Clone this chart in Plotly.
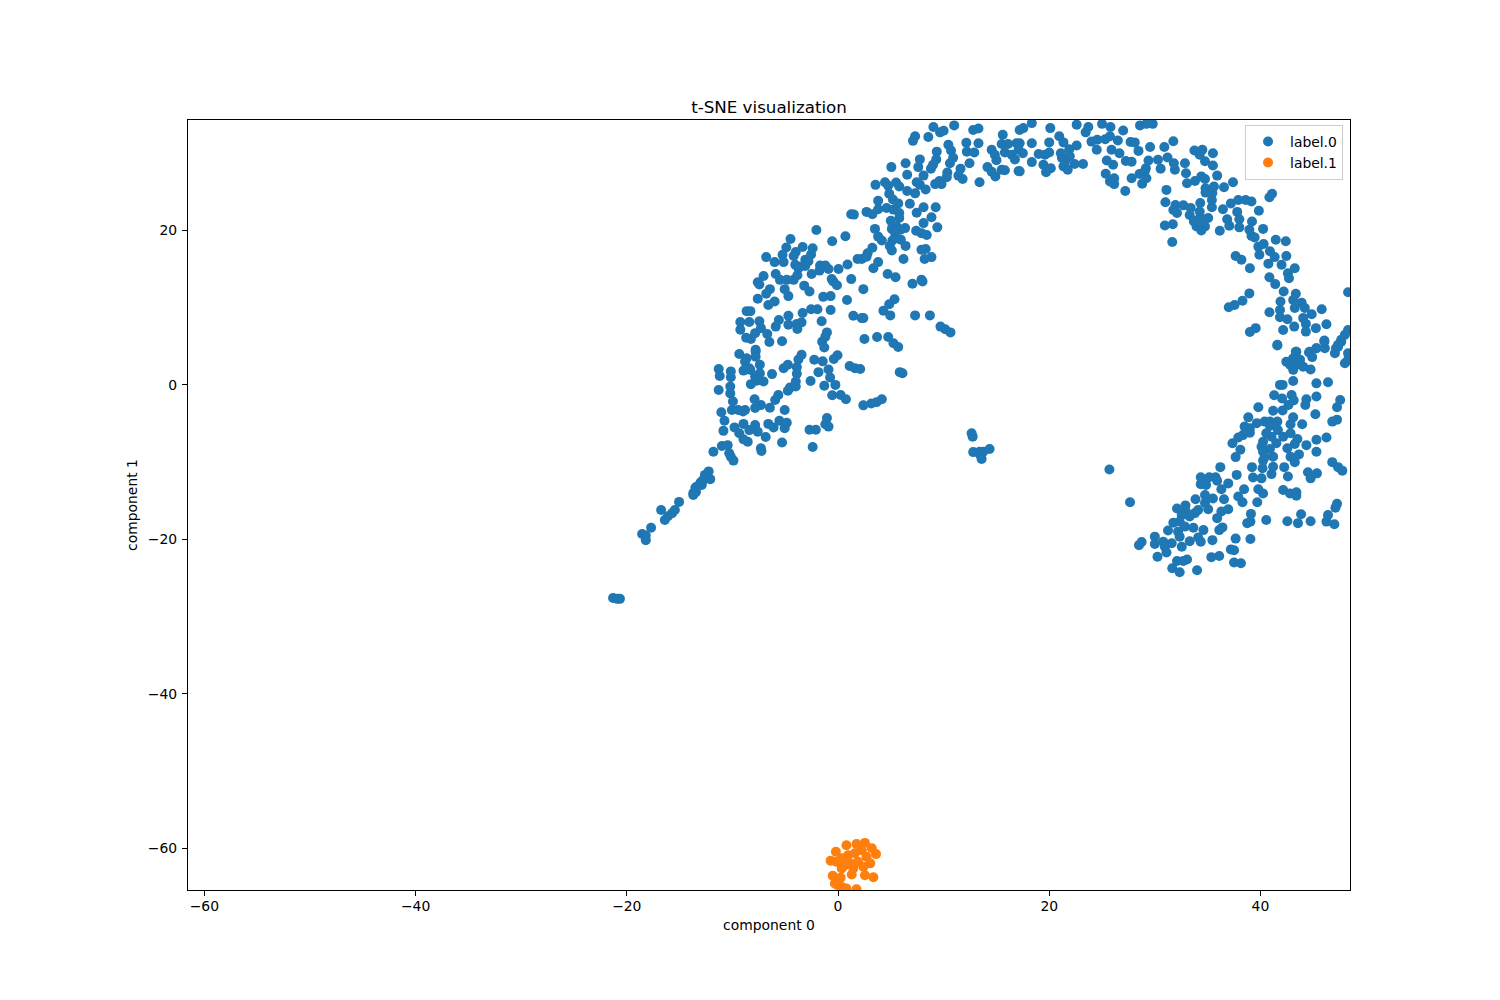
import plotly.graph_objects as go

# (component 0, component 1)
label_0_points = [
    (9.03,33.4),(11.0,33.6),(9.66,32.7),(10.0,32.9),(7.3,32.2),(7.1,31.6),(8.55,32.1),(12.8,33.0),(13.3,33.2),(15.6,32.4),
    (17.2,33.0),(12.15,31.35),(13.3,31.3),(10.45,31.1),(10.7,30.35),(9.35,30.2),(12.2,30.2),(12.9,30.1),(14.55,30.45),(14.85,29.8),
    (15.0,29.1),(15.5,31.2),(16.1,31.2),(16.9,31.3),(15.8,30.1),(16.45,29.8),(16.75,29.2),(17.1,30.45),(7.75,29.2),(9.3,29.2),
    (6.4,28.7),(5.05,28.2),(7.6,28.2),(9.0,28.5),(8.8,28.0),(10.9,29.4),(10.6,28.7),(12.45,28.7),(14.15,28.2),(14.55,27.6),
    (14.9,27.0),(15.5,27.85),(15.8,27.8),(17.1,27.7),(11.6,28.0),(11.4,27.1),(11.8,26.65),(10.35,27.5),(10.3,26.9),(8.1,27.1),
    (6.55,27.2),(13.4,26.25),(9.6,26.4),(9.8,26.0),(9.2,26.0),(7.45,26.25),(7.75,25.9),(8.3,25.3),(7.3,24.8),(6.55,25.1),
    (5.8,25.7),(5.5,26.2),(4.45,26.25),(4.75,25.8),(3.55,25.9),(4.85,24.75),(5.2,24.0),(5.7,23.5),(3.8,23.85),(6.8,23.45),
    (8.1,23.0),(7.45,22.3),(9.25,23.0),(8.85,21.7),(8.1,20.95),(9.4,20.4),(3.8,22.75),(4.6,22.9),(5.25,22.7),(5.8,22.25),
    (5.8,21.6),(5.0,21.25),(2.7,22.4),(3.25,22.1),(1.25,22.1),(1.5,22.05),(3.5,20.2),(5.1,20.2),(5.55,20.5),(5.9,20.1),
    (6.35,20.3),(5.4,19.65),(7.4,19.95),(7.9,19.65),(8.4,19.4),(3.8,19.2),(4.15,18.7),(5.15,18.7),(5.95,18.8),(4.9,18.0),
    (5.1,17.4),(6.4,18.0),(7.9,17.5),(8.3,17.6),(8.2,16.3),(8.85,16.55),(6.2,16.3),(3.25,17.75),(2.8,17.05),(2.7,16.6),
    (2.25,16.3),(1.85,16.3),(0.9,15.6),(3.8,15.9),(3.35,15.1),(0.05,15.0),(4.7,14.35),(5.45,13.95),(1.25,13.7),(7.05,13.1),
    (7.9,13.6),(8.0,13.4),(2.4,12.4),(-0.6,13.7),(-0.45,13.4),(-0.1,12.9),(-2.05,20.05),(-0.55,18.6),(0.7,19.25),(-4.5,18.9),
    (-4.9,17.8),(-3.35,17.85),(-2.4,17.7),(-2.55,16.9),(-4.0,17.2),(-4.2,16.7),(-5.25,16.85),(-6.8,16.55),(-6.0,15.9),(-5.15,15.9),
    (-3.1,16.2),(-2.8,16.0),(-4.05,15.55),(-3.6,15.3),(-3.1,15.4),(-3.75,15.1),(-2.5,14.35),(-1.7,15.45),(-1.2,15.45),(-0.9,15.0),
    (-1.75,14.8),(-5.9,14.35),(-5.5,13.6),(-4.85,13.6),(-4.2,13.6),(-3.85,14.2),(-7.05,14.1),(-7.6,13.3),(-7.45,13.0),(-6.45,12.4),
    (-6.8,11.8),(-7.6,11.15),(-5.05,12.4),(-4.7,11.5),(-3.2,12.85),(-2.7,12.1),(-1.4,11.4),(-0.7,11.5),(0.85,11.0),(-6.0,10.8),
    (-6.6,10.35),(-8.65,9.55),(-8.3,9.55),(-9.25,8.15),(-8.4,8.15),(-7.45,8.25),(-9.25,7.15),(-8.7,6.1),(-8.25,5.95),(-7.85,6.7),
    (-7.3,7.35),(-6.7,6.6),(-6.5,5.55),(-5.3,5.65),(-5.9,7.55),(-5.6,8.4),(-4.7,8.95),(-4.7,7.8),(-3.9,7.9),(-3.85,7.25),
    (-3.45,8.1),(-3.35,9.3),(-2.55,9.8),(-1.95,9.8),(-0.7,9.7),(-1.55,8.25),(1.45,8.95),(2.25,8.65),(2.4,8.65),(4.3,9.6),
    (4.85,10.45),(5.35,11.1),(4.95,9.0),(7.3,9.0),(8.7,9.0),(9.7,7.55),(10.15,7.2),(10.65,6.8),(-1.05,6.8),(-1.2,6.25),
    (-1.5,5.6),(-1.3,4.85),(2.5,5.95),(3.7,6.2),(4.75,6.2),(5.25,5.4),(5.7,4.9),(-7.8,4.55),
    (17.55,33.25),(18.35,33.9),(20.1,33.25),(22.6,33.7),(23.7,33.4),(23.45,32.7),(25.0,33.8),(25.8,33.4),(27.0,32.95),(28.6,33.6),
    (29.2,33.8),(29.8,33.8),(20.95,32.2),(21.35,31.4),(18.35,31.3),(20.0,31.4),(22.6,31.0),(21.9,30.5),(24.0,31.5),(24.55,31.75),
    (25.3,31.8),(25.75,32.2),(26.5,31.65),(27.7,31.45),(28.1,31.4),(29.55,30.8),(30.9,30.8),(31.75,31.55),(17.2,31.3),(17.5,30.0),
    (19.0,29.9),(19.6,29.8),(20.0,30.1),(21.1,30.0),(21.2,29.4),(21.5,28.9),(21.95,29.6),(18.35,28.85),(19.45,28.5),(20.15,28.05),
    (19.7,27.55),(21.35,28.3),(21.75,27.85),(22.4,28.6),(23.2,28.6),(24.5,30.45),(25.9,30.45),(26.65,30.0),(28.45,30.3),(25.45,29.05),
    (26.05,28.5),(27.25,29.0),(27.8,28.9),(29.4,29.05),(29.15,28.05),(30.3,29.15),(30.55,28.0),(31.2,29.45),(31.8,28.7),(31.9,27.85),
    (32.85,28.7),(32.95,27.4),(33.75,30.35),(34.5,30.45),(34.25,29.8),(35.5,30.0),(34.75,28.95),(35.5,28.4),(17.2,27.65),(25.35,27.35),
    (26.15,26.75),(25.75,26.35),(26.15,26.0),(27.8,26.75),(28.55,27.3),(29.05,27.65),(29.2,26.75),(28.8,26.05),(27.2,25.1),(33.05,26.1),
    (33.8,26.4),(34.4,27.0),(34.75,26.65),(35.9,27.1),(37.4,26.25),(34.8,25.45),(35.6,25.7),(36.55,25.6),(34.8,24.9),(35.45,24.85),
    (31.1,25.25),(41.1,24.75),(40.85,24.3),(31.0,23.65),(35.4,23.95),(34.3,23.55),(35.4,23.0),(31.95,23.3),(32.7,23.25),(31.75,22.65),
    (32.1,22.25),(33.4,22.9),(34.25,22.45),(33.3,22.0),(35.05,21.6),(33.7,21.15),(34.1,21.4),(34.6,21.45),(33.95,20.5),(34.75,20.5),
    (34.4,20.0),(30.95,20.65),(31.7,20.8),(36.15,19.95),(31.65,18.5),(37.2,23.5),(37.9,23.95),(38.6,23.95),(39.15,23.75),(36.45,22.75),
    (37.8,22.4),(39.85,22.55),(36.85,21.45),(37.05,20.6),(38.0,21.45),(38.0,20.4),(39.2,21.15),(38.95,20.1),(40.25,20.2),(39.15,19.3),
    (39.45,19.1),(41.45,18.8),(42.4,18.6),(39.8,17.9),(40.3,18.25),(40.9,17.3),(39.9,16.85),(41.35,16.55),(42.45,16.7),(42.0,15.55),
    (40.75,15.7),(37.65,16.7),(38.2,16.2),(39.0,15.1),(43.25,15.1),(42.6,14.45),(42.7,13.8),(40.85,13.95),(41.4,13.05),(42.2,12.1),
    (43.35,11.8),(48.3,12.0),(38.95,11.85),(38.3,10.9),(37.55,10.35),(37.0,10.05),(41.9,10.8),(43.1,11.0),(43.9,10.65),(44.2,9.95),
    (43.25,9.95),(40.85,9.4),(41.85,9.7),(41.85,8.75),(42.55,8.5),(44.85,9.15),(45.8,9.8),(44.05,8.65),(44.3,7.9),(44.3,6.9),
    (43.2,7.55),(42.15,7.1),(45.25,7.35),(46.25,7.85),(39.55,7.35),(39.0,6.85),(46.05,5.75),(41.6,5.1),(48.3,7.1),(48.0,6.5),
    (47.65,5.85),(47.35,5.2),(47.15,4.75),(44.65,4.3),(45.3,4.75),(43.35,4.3),
    (-9.35,4.0),(-7.8,4.3),(-8.65,3.45),(-7.8,3.65),(-8.8,3.0),(-8.95,1.85),(-11.3,2.05),(-11.2,1.15),(-10.15,1.75),(-10.15,1.0),
    (-10.2,-0.2),(-11.3,-0.65),(-10.2,-1.1),(-9.95,-2.15),(-10.05,-3.25),(-9.45,-3.25),(-8.8,-3.25),(-9.0,-3.45),(-11.05,-3.55),(-10.75,-4.65),
    (-10.85,-5.95),(-9.8,-5.5),(-9.35,-6.25),(-8.95,-7.05),(-8.55,-7.35),(-8.95,-5.05),(-8.4,-5.85),(-7.85,-5.2),(-7.6,-6.05),(-6.85,-6.75),
    (-7.3,-8.2),(-7.25,-8.55),(-5.3,-7.45),(-6.6,-5.05),(-6.1,-5.5),(-5.55,-4.65),(-4.85,-4.9),(-5.05,-5.6),(-5.05,-3.25),(-6.45,-2.95),
    (-7.3,-2.6),(-7.85,-3.0),(-7.9,-1.85),(-5.95,-1.95),(-5.65,-1.3),(-4.75,-0.75),(-4.55,-0.35),(-4.0,-0.2),(-4.0,0.45),(-3.9,1.45),
    (-3.9,2.3),(-5.15,2.15),(-4.75,2.6),(-3.75,3.3),(-3.45,3.9),(-2.25,3.25),(-1.45,3.05),(-1.85,1.65),(-0.9,2.0),(-0.4,3.35),
    (-0.05,3.85),(-2.6,0.5),(-0.75,0.95),(-1.3,-0.1),(-0.25,0.0),(-0.55,-1.35),(0.25,-1.3),(0.75,-1.85),(1.1,2.45),(1.6,2.15),
    (2.1,2.05),(5.85,1.65),(6.1,1.5),(2.4,-2.65),(3.15,-2.4),(3.65,-2.25),(4.15,-1.85),(-1.05,-4.3),(-1.2,-5.1),(-0.9,-5.4),
    (-2.7,-5.8),(-2.1,-5.8),(-2.4,-8.05),(-7.4,2.6),(-8.3,1.95),(-7.4,1.5),(-6.25,1.4),(-7.85,1.1),(-7.05,0.45),(-7.7,0.55),
    (-8.25,0.1),(-8.4,2.15),(-11.8,-8.65),(-11.0,-7.9),(-10.45,-7.8),(-10.3,-8.85),(-10.15,-9.3),(-9.9,-9.8),(12.65,-6.25),(12.75,-6.7),
    (12.8,-8.7),(13.4,-8.65),(13.75,-8.65),(14.35,-8.3),(13.6,-9.6),(13.45,-9.05),
    (-12.25,-11.2),(-12.6,-11.65),(-12.1,-12.2),(-12.75,-12.3),(-13.35,-13.15),(-12.9,-12.95),(-13.0,-12.6),(-13.5,-13.3),(-13.7,-14.0),(-13.45,-13.85),
    (-13.7,-14.25),(-16.75,-16.2),(-16.4,-17.5),(-16.1,-17.0),(-15.7,-16.6),(-15.45,-16.2),(-15.05,-15.15),(-18.55,-19.3),(-18.2,-20.1),(-18.2,-19.5),
    (-17.7,-18.5),(-21.3,-27.6),(-20.9,-27.7),(-20.65,-27.7),
    (41.6,5.2),(43.4,4.3),(43.1,3.45),(42.45,3.0),(43.75,3.25),(42.8,2.6),(43.4,2.6),(43.1,1.95),(44.05,2.35),(44.75,2.0),
    (44.6,4.2),(45.3,4.75),(44.9,3.6),(46.1,4.75),(46.05,5.6),(47.05,4.1),(47.35,4.95),(48.0,2.8),(48.3,4.1),(47.65,5.6),
    (48.3,3.25),(41.85,0.0),(42.1,0.0),(43.1,0.5),(45.3,0.2),(46.4,0.35),(41.3,-1.35),(42.05,-1.75),(42.95,-1.3),(43.15,-2.0),
    (44.35,-1.85),(44.25,-2.6),(45.3,-1.5),(47.55,-1.95),(47.25,-2.9),(39.8,-2.9),(41.2,-3.35),(42.1,-3.3),(42.65,-2.6),(45.2,-3.8),
    (38.85,-4.2),(43.1,-4.2),(42.85,-5.1),(43.95,-5.1),(46.8,-4.75),(47.25,-4.5),(39.65,-4.95),(40.4,-4.75),(40.9,-4.75),(41.6,-4.75),
    (40.9,-5.3),(38.5,-5.4),(39.0,-5.6),(41.65,-5.85),(38.35,-6.5),(39.0,-6.2),(37.9,-6.8),(37.35,-7.55),(40.55,-6.25),(41.05,-6.7),
    (42.15,-6.7),(42.85,-6.25),(43.5,-7.0),(43.25,-7.65),(40.25,-7.35),(41.5,-7.55),(40.1,-8.0),(40.9,-8.3),(42.55,-8.2),(44.35,-7.8),
    (45.3,-7.1),(46.25,-6.8),(45.3,-8.65),(38.1,-8.4),(37.65,-9.35),(40.25,-8.65),(40.4,-9.35),(41.2,-9.3),(43.65,-9.0),(42.85,-9.3),
    (43.25,-10.0),(40.25,-9.8),(46.8,-10.0),(47.35,-10.65),(47.75,-11.1),(25.7,-10.95),(36.2,-10.65),(39.2,-10.65),(40.2,-10.8),(41.2,-10.6),
    (42.25,-10.65),(41.05,-11.55),(42.6,-11.85),(44.5,-11.3),(45.35,-11.45),(44.75,-12.1),(37.75,-11.65),(34.35,-11.95),(35.15,-11.95),(35.75,-11.95),
    (35.9,-12.4),(39.3,-12.0),(40.1,-12.1),(34.35,-12.85),(34.85,-12.95),(36.95,-12.75),(36.3,-13.5),(38.45,-13.5),(39.8,-13.5),(40.25,-14.05),
    (42.15,-13.6),(42.8,-14.05),(43.4,-13.9),(43.4,-14.35),(34.75,-14.25),(33.85,-14.8),(35.5,-14.7),(36.55,-14.8),(37.9,-14.45),(38.3,-15.2),
    (39.7,-15.2),(34.75,-15.3),(35.05,-16.1),(27.65,-15.2),(47.25,-15.4),(47.1,-15.9),(32.1,-16.0),(32.9,-15.6),(32.95,-16.4),(34.1,-16.2),
    (33.8,-16.6),(32.55,-16.85),(33.3,-17.05),(36.95,-16.1),(36.3,-16.4),(35.9,-17.25),(39.1,-16.7),(39.05,-17.7),(38.75,-17.9),(40.55,-17.5),
    (42.55,-17.65),(43.55,-17.9),(43.85,-16.75),(44.75,-17.65),(46.4,-16.85),(46.25,-17.7),(47.0,-18.05),(31.75,-17.85),(32.35,-17.7),(32.85,-18.35),
    (33.65,-18.5),(31.25,-18.85),(32.2,-19.0),(36.4,-18.45),(36.1,-18.8),(34.6,-18.8),(30.0,-19.65),(32.35,-19.65),(34.1,-19.75),(33.3,-20.25),
    (34.35,-20.3),(35.45,-20.1),(37.65,-19.9),(39.05,-19.95),(30.0,-20.6),(30.8,-20.3),(31.6,-20.5),(32.55,-20.95),(30.95,-20.95),(28.75,-20.35),
    (28.5,-20.75),(31.1,-21.7),(30.25,-22.25),(37.2,-21.3),(37.5,-21.4),(35.35,-22.3),(36.1,-22.15),(32.1,-22.8),(33.05,-22.6),(32.7,-22.8),
    (37.5,-23.0),(38.15,-23.1),(31.65,-23.75),(32.35,-24.25),(34.0,-24.0),
]
label_1_points = [
    (0.8,-59.6),(1.75,-59.45),(2.55,-59.3),(3.2,-60.0),(3.6,-60.75),(-0.2,-60.45),(-0.7,-61.6),(-0.15,-61.75),(0.35,-61.3),(0.95,-60.9),
    (1.6,-60.65),(2.25,-60.25),(2.7,-61.1),(3.05,-61.95),(1.15,-61.95),(1.9,-61.75),(0.65,-62.2),(0.35,-62.6),(2.4,-62.4),(1.45,-62.6),
    (1.3,-63.4),(2.55,-63.5),(3.35,-63.75),(-0.5,-63.55),(0.25,-63.8),(-0.3,-64.55),(-0.05,-64.75),(0.8,-65.2),(1.75,-65.3),(0.35,-65.0),
]

x_ticks = [-60, -40, -20, 0, 20, 40]
y_ticks = [-60, -40, -20, 0, 20]

FONT = "DejaVu Sans"
TEXT = "black"

fig = go.Figure()
for name, pts, color in [
    ("label.0", label_0_points, "#1f77b4"),
    ("label.1", label_1_points, "#ff7f0e"),
]:
    xs, ys = zip(*pts)
    fig.add_trace(go.Scatter(
        x=xs, y=ys, mode="markers", name=name,
        marker=dict(color=color, size=10, line=dict(width=0)),
    ))

axis_style = dict(
    showgrid=False, zeroline=False, showline=True, mirror=True,
    linecolor="black", linewidth=1.1,
    ticks="outside", ticklen=5, tickwidth=1.1, tickcolor="black",
    tickfont=dict(size=13.9, color=TEXT, family=FONT),
)

# page body keeps its default 8px margin, so the figure is 16px smaller than the window
fig.update_layout(
    width=1484, height=984,
    margin=dict(l=180, r=142, t=112, b=102),
    paper_bgcolor="white", plot_bgcolor="white",
    font=dict(family=FONT, color=TEXT, size=13.9),
    title=dict(
        text="t-SNE visualization", x=0.5128, xanchor="center",
        y=0.8994, yanchor="middle", font=dict(size=16.7, color=TEXT, family=FONT),
    ),
    xaxis=dict(
        range=[-61.55, 48.48], tickvals=x_ticks, ticklabelstandoff=-2,
        title=dict(text="component 0", standoff=7, font=dict(size=13.9)),
        **axis_style,
    ),
    yaxis=dict(
        range=[-65.4, 34.3], tickvals=y_ticks, ticklabelstandoff=2,
        title=dict(text="component 1", standoff=6, font=dict(size=13.9)),
        **axis_style,
    ),
    legend=dict(
        x=0.994, y=0.9936, xanchor="right", yanchor="top", itemwidth=34,
        bgcolor="rgba(255,255,255,0.8)", bordercolor="#cccccc", borderwidth=1,
        font=dict(size=13.9, color=TEXT, family=FONT),
    ),
)

fig.write_html("out.html")
